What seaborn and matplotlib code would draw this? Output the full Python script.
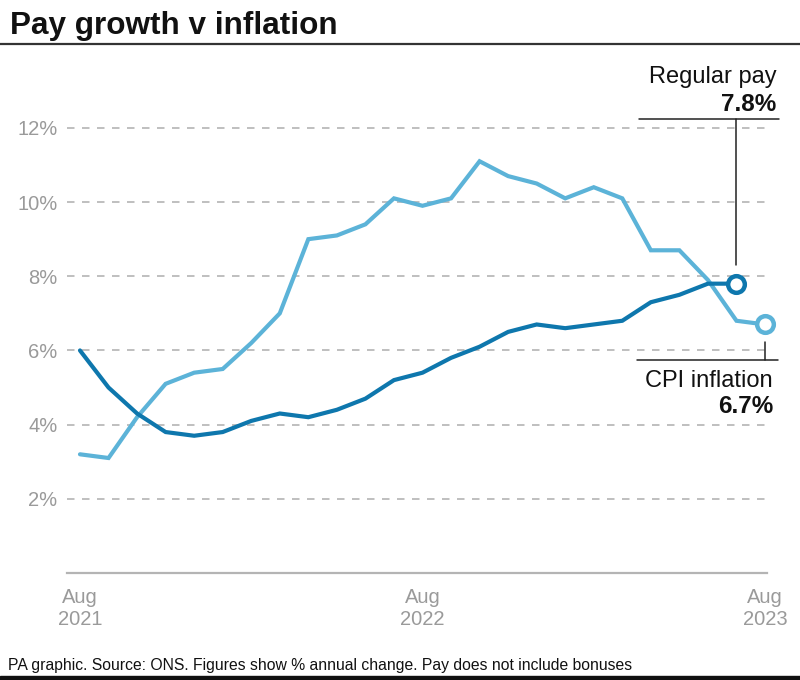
import matplotlib
matplotlib.use("Agg")
import matplotlib.pyplot as plt
import pandas as pd
import seaborn as sns

# ---------------- data ----------------
months = ["Aug 2021", "Sep 2021", "Oct 2021", "Nov 2021", "Dec 2021",
          "Jan 2022", "Feb 2022", "Mar 2022", "Apr 2022", "May 2022",
          "Jun 2022", "Jul 2022", "Aug 2022", "Sep 2022", "Oct 2022",
          "Nov 2022", "Dec 2022", "Jan 2023", "Feb 2023", "Mar 2023",
          "Apr 2023", "May 2023", "Jun 2023", "Jul 2023", "Aug 2023"]
cpi_inflation = [3.2, 3.1, 4.2, 5.1, 5.4, 5.5, 6.2, 7.0, 9.0, 9.1, 9.4, 10.1,
                 9.9, 10.1, 11.1, 10.7, 10.5, 10.1, 10.4, 10.1, 8.7, 8.7,
                 7.9, 6.8, 6.7]
regular_pay = [6.0, 5.0, 4.3, 3.8, 3.7, 3.8, 4.1, 4.3, 4.2, 4.4, 4.7, 5.2,
               5.4, 5.8, 6.1, 6.5, 6.7, 6.6, 6.7, 6.8, 7.3, 7.5, 7.8, 7.8]
y_ticks = [2, 4, 6, 8, 10, 12]
y_tick_labels = ["2%", "4%", "6%", "8%", "10%", "12%"]
x_tick_months = ["Aug 2021", "Aug 2022", "Aug 2023"]
x_tick_labels = ["Aug\n2021", "Aug\n2022", "Aug\n2023"]

LIGHT = "#5cb3d8"
DARK = "#0e77ad"
GRID = "#b4b4b4"
TICK = "#9a9a9a"

df = pd.concat([
    pd.DataFrame({"idx": range(len(cpi_inflation)), "value": cpi_inflation,
                  "series": "CPI inflation"}),
    pd.DataFrame({"idx": range(len(regular_pay)), "value": regular_pay,
                  "series": "Regular pay"}),
], ignore_index=True)

sns.set_theme(style="white")
plt.rcParams["font.family"] = ["Liberation Sans", "DejaVu Sans"]

W, H = 800, 680
fig = plt.figure(figsize=(W / 100, H / 100), dpi=100)
ax = fig.add_axes([67 / W, 1 - 573 / H, 700 / W, (573 - 60) / H])

sns.lineplot(data=df, x="idx", y="value", hue="series",
             hue_order=["CPI inflation", "Regular pay"],
             palette={"CPI inflation": LIGHT, "Regular pay": DARK},
             linewidth=3.0, legend=False, ax=ax, zorder=3)
for ln in ax.get_lines():
    ln.set_clip_on(False)
    ln.set_solid_joinstyle("miter")

# end markers
ax.plot(len(cpi_inflation) - 1, cpi_inflation[-1], "o", mfc="white",
        mec=LIGHT, ms=12, mew=3.2, zorder=5, clip_on=False)
ax.plot(len(regular_pay) - 1, regular_pay[-1], "o", mfc="white",
        mec=DARK, ms=12, mew=3.2, zorder=6, clip_on=False)

ax.set_xlim(-0.455, 24.07)
ax.set_ylim(0, 13.83)
ax.set_yticks(y_ticks)
ax.set_yticklabels(y_tick_labels)
ax.set_xticks([months.index(m) for m in x_tick_months])
ax.set_xticklabels(x_tick_labels)
ax.set_xlabel("")
ax.set_ylabel("")
ax.tick_params(axis="both", length=0, labelsize=14.5, labelcolor=TICK)
ax.tick_params(axis="y", pad=7)
ax.tick_params(axis="x", pad=11)
ax.grid(axis="y", color=GRID, linestyle=(0, (4.5, 4.5)), linewidth=1.2)
ax.grid(axis="x", visible=False)
for s in ["left", "right", "top"]:
    ax.spines[s].set_visible(False)
ax.spines["bottom"].set_color(GRID)
ax.spines["bottom"].set_linewidth(1.6)

# annotations
ix_pay = len(regular_pay) - 1
ix_cpi = len(cpi_inflation) - 1
ax.plot([19.59, 24.49], [12.24, 12.24], color="#222222", lw=1.1,
        clip_on=False, zorder=4)
ax.plot([ix_pay, ix_pay], [12.24, regular_pay[-1] + 0.5], color="#222222",
        lw=1.1, clip_on=False, zorder=4)
ax.plot([19.52, 24.45], [5.74, 5.74], color="#222222", lw=1.1,
        clip_on=False, zorder=4)
ax.plot([ix_cpi, ix_cpi], [5.74, cpi_inflation[-1] - 0.48], color="#222222",
        lw=1.1, clip_on=False, zorder=4)

ax.text(24.39, 13.21, "Regular pay", ha="right", va="baseline",
        fontsize=17, color="#111111")
ax.text(24.39, 12.46, f"{regular_pay[-1]}%", ha="right", va="baseline",
        fontsize=17.5, fontweight="bold", color="#111111")
ax.text(24.28, 5.02, "CPI inflation", ha="right", va="baseline",
        fontsize=17, color="#111111")
ax.text(24.28, 4.31, f"{cpi_inflation[-1]}%", ha="right", va="baseline",
        fontsize=17.5, fontweight="bold", color="#111111")

# title, rule, footer
fig.text(10 / W, 1 - 34 / H, "Pay growth v inflation", ha="left",
         va="baseline", fontsize=22.7, fontweight="bold", color="#111111")
fig.add_artist(plt.Line2D([0, 1], [1 - 44 / H, 1 - 44 / H], color="#333333",
                          lw=1.6))
fig.text(8 / W, 1 - 670 / H,
         "PA graphic. Source: ONS. Figures show % annual change. "
         "Pay does not include bonuses",
         ha="left", va="baseline", fontsize=11.3, color="#111111")
fig.add_artist(plt.Rectangle((0, 0), 1, 4 / H, color="#111111",
                             transform=fig.transFigure))

fig.savefig("out.png", dpi=100)
